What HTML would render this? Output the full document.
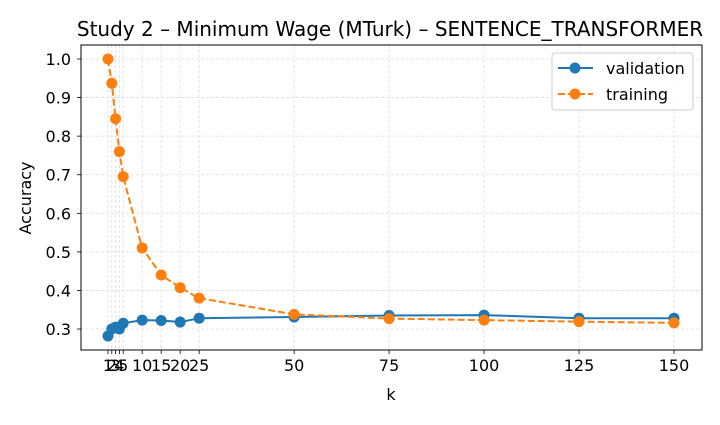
<!DOCTYPE html>
<html><head><meta charset="utf-8"><style>
body{margin:0;background:#fff;}
svg text{font-family:"DejaVu Sans","Liberation Sans",sans-serif;fill:#000;}
</style></head><body>
<svg id="chart" width="720" height="420" xmlns="http://www.w3.org/2000/svg"></svg>
<script>
const kValues=[1,2,3,4,5,10,15,20,25,50,75,100,125,150];
const validation=[0.282,0.300,0.305,0.300,0.315,0.323,0.322,0.318,0.328,0.331,0.335,0.336,0.328,0.328];
const training=[1.0,0.937,0.845,0.760,0.695,0.510,0.440,0.407,0.380,0.338,0.327,0.323,0.319,0.316];
const yTicks=[0.3,0.4,0.5,0.6,0.7,0.8,0.9,1.0];
const xTickLabels=["1","2","3","4","5","10","15","20","25","50","75","100","125","150"];

const NS="http://www.w3.org/2000/svg";
const svg=document.getElementById('chart');
const L=81,R=702,T=45,B=350;
const xs=k=>108+(k-1)*(674-108)/149;
const ys=v=>329-(v-0.3)*385.7;
function mk(tag,attrs,parent){const e=document.createElementNS(NS,tag);for(const a in attrs)e.setAttribute(a,attrs[a]);(parent||svg).appendChild(e);return e;}

const grid=mk('g',{});


kValues.forEach(k=>mk('line',{x1:xs(k),x2:xs(k),y1:T,y2:B,stroke:'#ddd','stroke-width':0.8,'stroke-dasharray':'3,2'},grid));
yTicks.forEach(v=>mk('line',{x1:L,x2:R,y1:ys(v),y2:ys(v),stroke:'#ddd','stroke-width':0.8,'stroke-dasharray':'3,2'},grid));

const xt=mk('g',{});


kValues.forEach((k,i)=>{
  mk('line',{x1:xs(k),x2:xs(k),y1:B,y2:B+4,stroke:'#000','stroke-width':0.8},xt);
  const t=mk('text',{x:xs(k),y:B+21,'font-size':16,'text-anchor':'middle'},xt);t.textContent=xTickLabels[i];
});
const yt=mk('g',{});


yTicks.forEach(v=>{
  mk('line',{x1:L-4,x2:L,y1:ys(v),y2:ys(v),stroke:'#000','stroke-width':0.8},yt);
  const t=mk('text',{x:L-10,y:ys(v)+6,'font-size':16,'text-anchor':'end'},yt);t.textContent=v.toFixed(1);
});

function series(data,color,dash,name){
  const g=mk('g',{});
  
  
  const pts=data.map((v,i)=>xs(kValues[i])+','+ys(v)).join(' ');
  mk('polyline',{points:pts,fill:'none',stroke:color,'stroke-width':2,'stroke-dasharray':dash||'none'},g);
  data.forEach((v,i)=>{
    const c=mk('circle',{cx:xs(kValues[i]),cy:ys(v),r:5.5,fill:color},g);
    
    
  });
}
series(validation,'#1f77b4',null,'validation-series');
series(training,'#ff7f0e','7,3','training-series');

const frame=mk('rect',{x:L,y:T,width:R-L,height:B-T,fill:'none',stroke:'#000','stroke-width':1});


</script>
<svg style="position:absolute;left:0;top:0" width="720" height="420" xmlns="http://www.w3.org/2000/svg">
<text x="390" y="36" font-size="20" text-anchor="middle">Study 2 – Minimum Wage (MTurk) – SENTENCE_TRANSFORMER</text>
<text x="391" y="400" font-size="16" text-anchor="middle">k</text>
<text x="31" y="198" font-size="16" text-anchor="middle" transform="rotate(-90 31 198)">Accuracy</text>
<g>
<rect x="552" y="53" width="141" height="57" rx="3" fill="#fff" fill-opacity="0.8" stroke="#ccc"/>
<g>
<line x1="558" x2="593" y1="68" y2="68" stroke="#1f77b4" stroke-width="2"/><circle cx="575" cy="68" r="5.5" fill="#1f77b4"/>
<text x="606" y="74" font-size="16">validation</text></g>
<g>
<line x1="558" x2="593" y1="94" y2="94" stroke="#ff7f0e" stroke-width="2" stroke-dasharray="7,3"/><circle cx="575" cy="94" r="5.5" fill="#ff7f0e"/>
<text x="606" y="100" font-size="16">training</text></g>
</g>
</svg>
</body></html>
